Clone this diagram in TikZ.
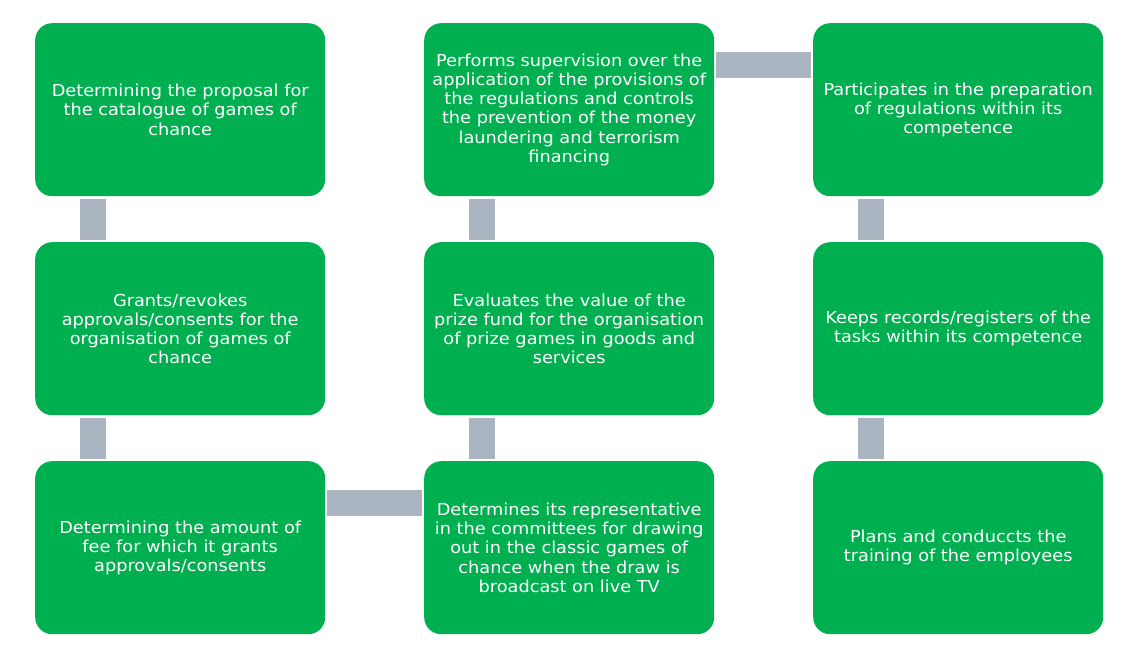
\documentclass[tikz,border=0pt]{standalone}
\usepackage{fontspec}
\setmainfont{DejaVu Sans}[FakeStretch=1.075]
\definecolor{boxgreen}{HTML}{00B050}
\definecolor{bargray}{HTML}{ABB5C1}
\begin{document}
\begin{tikzpicture}[x=1pt,y=-1pt,
  card/.style={fill=boxgreen, draw=none, rounded corners=17pt, minimum width=290pt, minimum height=173pt,
    text=white, align=center, inner sep=0pt, font=\fontsize{16.5}{19.2}\selectfont, anchor=north west},
  bar/.style={draw=bargray, line width=26pt, line cap=butt}]
\useasboundingbox (0,0) rectangle (1134,655);
\node[card] (a1) at (35,23) {Determining the proposal for\\the catalogue of games of\\chance};
\node[card] (a2) at (35,242) {Grants/revokes\\approvals/consents for the\\organisation of games of\\chance};
\node[card] (a3) at (35,461) {Determining the amount of\\fee for which it grants\\approvals/consents};
\node[card] (b1) at (424,23) {Performs supervision over the\\application of the provisions of\\the regulations and controls\\the prevention of the money\\laundering and terrorism\\financing};
\node[card] (b2) at (424,242) {Evaluates the value of the\\prize fund for the organisation\\of prize games in goods and\\services};
\node[card] (b3) at (424,461) {Determines its representative\\in the committees for drawing\\out in the classic games of\\chance when the draw is\\broadcast on live TV};
\node[card] (c1) at (813,23) {Participates in the preparation\\of regulations within its\\competence};
\node[card] (c2) at (813,242) {Keeps records/registers of the\\tasks within its competence};
\node[card] (c3) at (813,461) {Plans and conduccts the\\training of the employees};
\foreach \u/\v in {a1/a2,a2/a3,b1/b2,b2/b3,c1/c2,c2/c3}
  \draw[bar] ([xshift=58pt,yshift=-3pt]\u.south west) -- ([xshift=58pt,yshift=2pt]\v.north west);
\draw[bar] ([xshift=2pt,yshift=-42pt]b1.north east) -- ([xshift=-2pt,yshift=-42pt]c1.north west);
\draw[bar] ([xshift=2pt,yshift=-42pt]a3.north east) -- ([xshift=-2pt,yshift=-42pt]b3.north west);
\end{tikzpicture}
\end{document}
